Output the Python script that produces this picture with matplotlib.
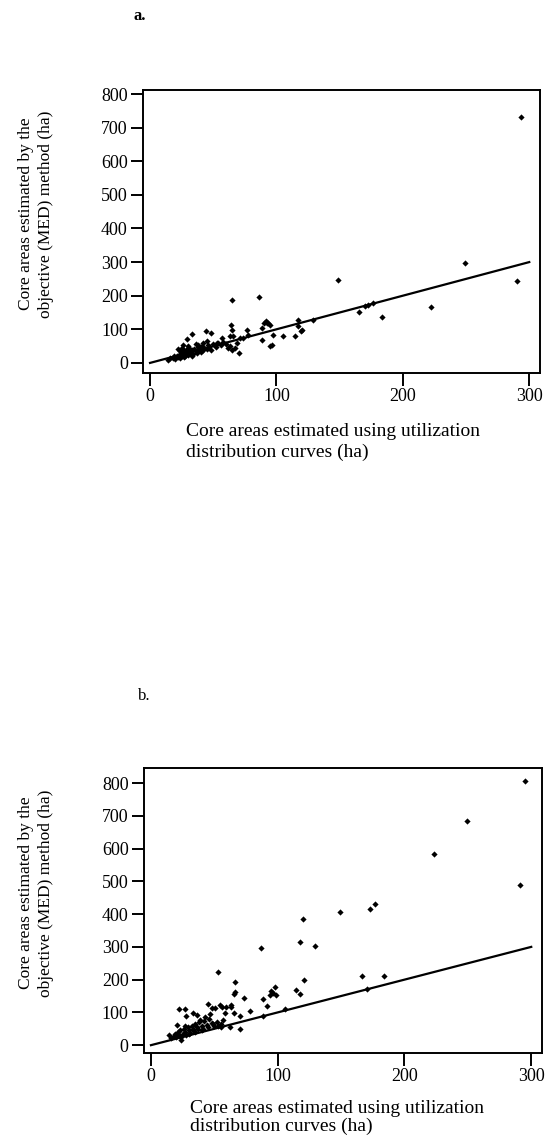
import matplotlib
matplotlib.use("Agg")
import matplotlib.pyplot as plt
import numpy as np

plt.rcParams['font.family'] = ['Liberation Serif', 'DejaVu Serif']

# panel a: utilization-distribution core area (x) vs MED core area (y)
a_x = [293.7, 248.9, 290, 148.6, 222.5, 183.4, 165.7, 169.7, 172.4, 176.3,
       129.3, 116.9, 117.4, 119.5, 115, 105, 97.6, 96.3, 95, 91.8,
       93.7, 94.5, 90.5, 88.4, 88.4, 86, 65.2, 64.1, 64.6, 65.4,
       63.3, 63.3, 64.6, 70, 68.6, 71.3, 76.5, 77.3, 73.4, 67.3,
       62, 56.7, 52.8, 44.3, 48, 44.9, 33, 29.6, 38.3, 26.4,
       22.4, 120, 92.4,
       14, 16, 18, 19, 20, 21, 22, 23, 24, 25,
       25, 26, 27, 27, 28, 29, 30, 30, 31, 32,
       33, 34, 35, 36, 37, 38, 39, 40, 41, 42,
       43, 45, 46, 47, 48, 50, 52, 54, 56, 58,
       60, 33, 28, 24, 30, 36, 42, 25]
a_y = [733, 298, 243.5, 247.5, 165, 136.6, 151.5, 170, 173, 178,
       128.7, 128.7, 109, 94, 79, 79, 84, 54.5, 49.5, 124,
       119, 114, 119, 104, 69, 195, 188, 114, 99, 79,
       79, 49.5, 39.6, 29.7, 59.4, 74, 99, 84, 74, 44.6,
       44.6, 74, 59.4, 94, 89, 64, 87, 71, 54.5, 54.5,
       41.6, 98, 118,
       10, 14, 15, 20, 12, 22, 18, 25, 15, 30,
       20, 28, 35, 18, 22, 40, 25, 32, 45, 30,
       38, 28, 42, 35, 30, 48, 40, 33, 50, 38,
       44, 40, 52, 46, 38, 55, 48, 60, 52, 62,
       55, 22, 30, 35, 50, 55, 58, 44]

# panel b
b_x = [294.8, 290.8, 249.4, 223, 176.8, 172.9, 149.1, 120, 117.4, 129.3,
       86.6, 52.8, 66, 120.6, 166.3, 184, 170.2, 114.8, 117.4, 97.6,
       95, 96.3, 93.7, 98.5, 88.4, 91.6, 88.4, 105.6, 73.1, 66.5,
       65.5, 63.3, 63.5, 65.2, 70.5, 70.5, 77.9, 59.4, 54.1, 56,
       50.7, 48.5, 44.6, 46.2, 58.6, 49.3, 62, 55.4, 53, 22.4,
       26.9, 27.7, 20.8, 33.5, 36.1, 38.5,
       14.5, 16, 18, 19, 20, 21, 22, 23, 24, 25,
       26, 27, 28, 29, 30, 31, 32, 33, 34, 35,
       36, 37, 38, 40, 41, 42, 44, 45, 46, 48,
       50, 52, 55, 57, 24, 30, 35, 27, 40, 43]
b_y = [805, 488, 685, 584, 432, 416, 408, 385, 315, 304,
       297, 223, 192, 198, 211, 211, 172, 168, 155, 178,
       165, 158, 153, 153, 140, 119, 90, 109, 145, 161,
       155, 124, 117, 97, 89, 48, 104, 116, 122, 117,
       112, 112, 127, 95, 97, 66, 56, 56, 58, 110,
       110, 90, 61, 97, 92, 77,
       31, 22, 28, 35, 25, 40, 30, 45, 17, 35,
       50, 40, 30, 55, 45, 38, 60, 50, 42, 65,
       55, 48, 70, 58, 50, 75, 62, 55, 80, 68,
       60, 72, 65, 78, 25, 35, 40, 60, 45, 85]

line_x = [0, 300]
line_y = [0, 300]

H = 1141.0
fig = plt.figure(figsize=(5.59, 11.41), dpi=100)


def draw_panel(rect, xs, ys, ylim):
    ax = fig.add_axes(rect)
    ax.scatter(xs, ys, marker='D', s=10, color='black', linewidths=0)
    ax.plot(line_x, line_y, color='black', linewidth=1.6)
    ax.set_xlim(-5.5, 308.5)
    ax.set_ylim(*ylim)
    ax.set_xticks([0, 100, 200, 300])
    ax.set_yticks(range(0, 801, 100))
    ax.tick_params(direction='out', length=9, width=1.4, labelsize=13, pad=2)
    for s in ax.spines.values():
        s.set_linewidth(1.4)
    return ax


draw_panel([0.256, 0.6731, 0.710, 0.248], a_x, a_y, (-30, 812))
draw_panel([0.2576, 0.0771, 0.712, 0.2498], b_x, b_y, (-24, 846))

ylab = "Core areas estimated by the\nobjective (MED) method (ha)"
xlab = "Core areas estimated using utilization\ndistribution curves (ha)"

fig.text(36 / 559, 1 - 214 / H, ylab, rotation=90, ha='center', va='center',
         multialignment='center', fontsize=12.5, linespacing=1.3)
fig.text(36 / 559, 1 - 893 / H, ylab, rotation=90, ha='center', va='center',
         multialignment='center', fontsize=12.5, linespacing=1.3)
fig.text(186 / 559, 1 - 423 / H, xlab, ha='left', va='top',
         multialignment='left', fontsize=14, linespacing=1.3)
fig.text(190 / 559, 1 - 1100 / H, xlab, ha='left', va='top',
         multialignment='left', fontsize=14, linespacing=1.05)

fig.text(140 / 559, 1 - 16 / H, "a.", ha='center', va='center',
         fontsize=12, fontweight='bold')
fig.text(144 / 559, 1 - 696 / H, "b.", ha='center', va='center', fontsize=12)

fig.savefig("out.png", dpi=100)
